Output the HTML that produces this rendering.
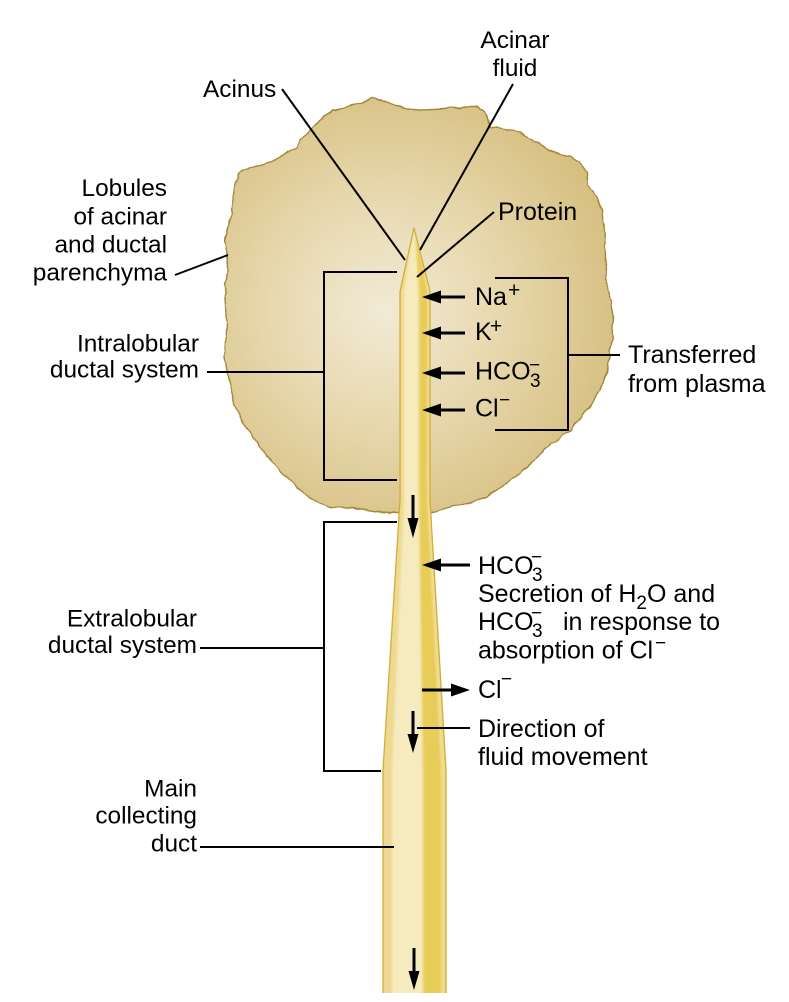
<!DOCTYPE html>
<html><head><meta charset="utf-8"><style>
html,body{margin:0;padding:0;background:#fff;}
svg{display:block;}
text{font-family:"Liberation Sans",Arial,sans-serif;font-size:24.4px;fill:#000;}
.r{font-size:25px;}
.s{font-size:19px;}
</style></head><body>
<svg width="789" height="1002" viewBox="0 0 789 1002" xmlns="http://www.w3.org/2000/svg">
<defs>
<radialGradient id="bg" gradientUnits="userSpaceOnUse" cx="385" cy="310" r="240">
<stop offset="0" stop-color="#f2ead6"/>
<stop offset="0.45" stop-color="#e8d9b0"/>
<stop offset="1" stop-color="#d6bf80"/>
</radialGradient>
<filter id="wob" x="-5%" y="-5%" width="110%" height="110%">
<feTurbulence type="fractalNoise" baseFrequency="0.09" numOctaves="2" seed="3" result="n"/>
<feDisplacementMap in="SourceGraphic" in2="n" scale="4" xChannelSelector="R" yChannelSelector="G"/>
</filter>
<filter id="bl"><feGaussianBlur stdDeviation="1.3"/></filter>
<clipPath id="dc"><path d="M414,228 L429,287 L430,292 L430,500 L446,770 L446,993 L383,993 L383,770 L400,500 L400,292 L401,287 Z"/></clipPath>
</defs>

<!-- blob -->
<path filter="url(#wob)" fill="url(#bg)" stroke="#a4873a" stroke-width="1.4" stroke-linejoin="round" d="M313,127 L323,118 L333,110 L347,107 L363,102 L373,98 L387,102 L403,108 L423,110 L443,109 L467,107 L477,107 L483,110 L487,117 L490,127 L500,128 L520,132 L533,140 L553,152 L570,157 L580,162 L587,173 L588,185 L597,197 L602,210 L605,230 L606,257 L607,290 L611,300 L613,317 L612,340 L608,367 L600,390 L587,410 L570,430 L553,443 L537,457 L527,467 L507,483 L487,497 L467,503 L447,508 L433,512 L415,514 L398,513 L380,512 L367,510 L347,508 L330,507 L313,500 L300,490 L287,477 L270,460 L253,437 L243,423 L233,400 L228,377 L225,357 L227,323 L225,290 L227,270 L228,257 L225,240 L230,222 L232,210 L233,200 L235,183 L240,173 L250,168 L267,163 L280,157 L297,147 L300,140 Z"/>

<!-- duct -->
<g clip-path="url(#dc)">
<rect x="370" y="220" width="90" height="780" fill="#f6ebbf"/>
<polygon filter="url(#bl)" fill="#efd892" points="414,228 398,292 398,500 381,770 381,995 392,995 392,770 404,500 404,292"/>
<polygon filter="url(#bl)" fill="#e8cc58" points="415,232 419,292 419,500 423,770 423,995 442,995 442,770 428,500 428,292 420,250"/>
<polygon filter="url(#bl)" fill="#efd98a" points="428,292 432,292 432,500 448,770 448,995 442,995 442,770 428,500"/>
</g>
<path fill="none" stroke="#d1ae38" stroke-width="1.3" stroke-linejoin="round" d="M446,993 L446,770 L430,500 L430,292 L429,287 L414,228 L401,287 L400,292 L400,500 L383,770 L383,993"/>

<!-- leader lines -->
<g stroke="#000" stroke-width="2" fill="none">
<line x1="282" y1="89" x2="405" y2="260"/>
<line x1="513" y1="84" x2="420" y2="250"/>
<line x1="494" y1="212" x2="417" y2="277"/>
<line x1="175" y1="275" x2="228" y2="255"/>
<path d="M397,272 H324 V480 H397"/>
<line x1="207" y1="372" x2="324" y2="372"/>
<path d="M495,278 H568 V430 H495"/>
<line x1="568" y1="355" x2="620" y2="355"/>
<path d="M397,522 H324 V771 H381"/>
<line x1="200" y1="648" x2="324" y2="648"/>
<line x1="200" y1="847" x2="394" y2="847"/>
<line x1="417" y1="728" x2="470" y2="728"/>
</g>

<!-- arrows -->
<g stroke="#000" stroke-width="3">
<line x1="465" y1="297" x2="438" y2="297"/>
<line x1="465" y1="333" x2="438" y2="333"/>
<line x1="465" y1="373" x2="438" y2="373"/>
<line x1="465" y1="410" x2="438" y2="410"/>
<line x1="470" y1="565" x2="438" y2="565"/>
<line x1="422" y1="690" x2="454" y2="690"/>
<line x1="413" y1="495" x2="413" y2="522"/>
<line x1="413" y1="711" x2="413" y2="738"/>
<line x1="414" y1="948" x2="414" y2="975"/>
</g>
<g fill="#000">
<polygon points="422,297 441,290.5 441,303.5"/>
<polygon points="422,333 441,326.5 441,339.5"/>
<polygon points="422,373 441,366.5 441,379.5"/>
<polygon points="422,410 441,403.5 441,416.5"/>
<polygon points="422,565 441,558.5 441,571.5"/>
<polygon points="470,690 451,683.5 451,696.5"/>
<polygon points="413,538 407.5,518 418.5,518"/>
<polygon points="413,753 407.5,734 418.5,734"/>
<polygon points="414,990 408.5,971 419.5,971"/>
</g>

<!-- labels -->
<text x="515" y="48" text-anchor="middle">Acinar</text>
<text x="515" y="76" text-anchor="middle">fluid</text>
<text x="203" y="97">Acinus</text>
<text class="r" x="498" y="220">Protein</text>

<text x="167" y="196" text-anchor="end">Lobules</text>
<text x="167" y="224.5" text-anchor="end">of acinar</text>
<text x="167" y="252.5" text-anchor="end">and ductal</text>
<text x="167" y="280.5" text-anchor="end">parenchyma</text>

<text x="199" y="351.5" text-anchor="end">Intralobular</text>
<text x="199" y="377.5" text-anchor="end">ductal system</text>

<text x="197" y="626.5" text-anchor="end">Extralobular</text>
<text x="197" y="653" text-anchor="end">ductal system</text>

<text x="197" y="796.5" text-anchor="end">Main</text>
<text x="197" y="823.5" text-anchor="end">collecting</text>
<text x="197" y="851.5" text-anchor="end">duct</text>

<text class="r" x="628" y="363">Transferred</text>
<text class="r" x="628" y="392">from plasma</text>

<!-- ions in lobule -->
<text class="r" x="475" y="305">Na</text>
<text x="508" y="297" style="font-size:21px">+</text>
<text class="r" x="475" y="340">K</text>
<text x="490" y="333" style="font-size:21px">+</text>
<text class="r" x="475" y="379.5">HCO</text>
<text class="s" x="530" y="387">3</text>
<text class="s" x="529" y="371">−</text>
<text class="r" x="475" y="416.5">Cl</text>
<text class="s" x="499" y="406">−</text>

<!-- extralobular text -->
<text class="r" x="478" y="574">HCO</text>
<text class="s" x="532" y="581">3</text>
<text class="s" x="531" y="563">−</text>
<text class="r" x="478" y="602">Secretion of H<tspan class="s" dy="7">2</tspan><tspan dy="-7">O and</tspan></text>
<text class="r" x="478" y="630">HCO</text>
<text class="s" x="532" y="637">3</text>
<text class="s" x="531" y="619">−</text>
<text class="r" x="563" y="630">in response to</text>
<text class="r" x="478" y="658.5">absorption of Cl</text>
<text class="s" x="655" y="649">−</text>

<text class="r" x="478" y="698">Cl</text>
<text class="s" x="501" y="685">−</text>

<text class="r" x="478" y="737">Direction of</text>
<text class="r" x="478" y="765">fluid movement</text>
</svg>
</body></html>
